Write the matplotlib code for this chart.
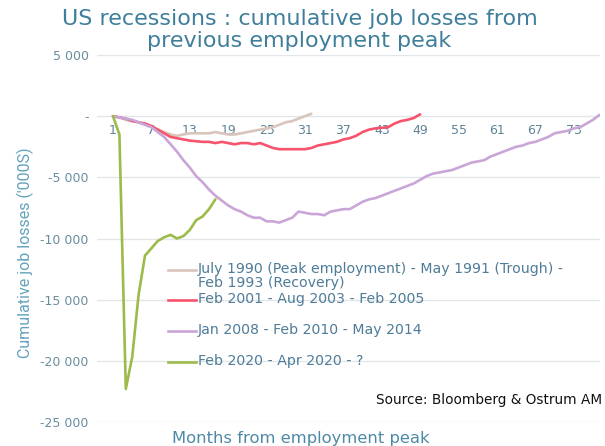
import matplotlib
matplotlib.use("Agg")
import matplotlib.pyplot as plt
from matplotlib.lines import Line2D
from matplotlib.ticker import FuncFormatter

# ---- data (thousands of jobs, cumulative change from previous employment peak) ----
labels = [
    "July 1990 (Peak employment) - May 1991 (Trough) -\nFeb 1993 (Recovery)",
    "Feb 2001 - Aug 2003 - Feb 2005",
    "Jan 2008 - Feb 2010 - May 2014",
    "Feb 2020 - Apr 2020 - ?",
]
rec_1990 = [0, -100, -300, -400, -500, -700, -900, -1100, -1300, -1500, -1600, -1500,
            -1400, -1400, -1400, -1400, -1300, -1400, -1500, -1500, -1400, -1300, -1200,
            -1100, -1000, -900, -700, -500, -400, -200, 0, 200]
rec_2001 = [0, -100, -200, -400, -500, -600, -800, -1100, -1400, -1700, -1800, -1900,
            -2000, -2050, -2100, -2100, -2200, -2100, -2200, -2300, -2200, -2200, -2300,
            -2200, -2400, -2600, -2700, -2700, -2700, -2700, -2700, -2600, -2400, -2300,
            -2200, -2100, -1900, -1800, -1600, -1300, -1100, -1000, -950, -900, -600,
            -400, -300, -150, 150]
rec_2008 = [0, -100, -200, -300, -500, -700, -900, -1300, -1700, -2300, -2900, -3600,
            -4200, -4900, -5400, -6000, -6500, -6900, -7300, -7600, -7800, -8100, -8300,
            -8300, -8600, -8600, -8700, -8500, -8300, -7800, -7900, -8000, -8000, -8100,
            -7800, -7700, -7600, -7600, -7300, -7000, -6800, -6700, -6500, -6300, -6100,
            -5900, -5700, -5500, -5200, -4900, -4700, -4600, -4500, -4400, -4200, -4000,
            -3800, -3700, -3600, -3300, -3100, -2900, -2700, -2500, -2400, -2200, -2100,
            -1900, -1700, -1400, -1300, -1200, -1000, -900, -600, -300, 100]
rec_2020 = [0, -1500, -22300, -19700, -14600, -11400, -10800, -10200, -9900, -9700,
            -10000, -9800, -9300, -8500, -8200, -7600, -6800]
series = [rec_1990, rec_2001, rec_2008, rec_2020]
colors = ["#d9c5bb", "#f7536c", "#c9a5d8", "#9cbb4a"]
xticks = list(range(1, 78, 6))
yticks = [5000, 0, -5000, -10000, -15000, -20000, -25000]

W, H = 605, 446
AX_L, AX_R, AX_T, AX_B = 97, 600, 55, 422
fig = plt.figure(figsize=(W / 100, H / 100), dpi=100)
ax = fig.add_axes([AX_L / W, 1 - AX_B / H, (AX_R - AX_L) / W, (AX_B - AX_T) / H])

for vals, col, lab in zip(series, colors, labels):
    months = list(range(1, len(vals) + 1))
    ax.plot(months, vals, color=col, lw=1.9, label=lab, solid_capstyle="round",
            solid_joinstyle="round", zorder=3)

ax.set_xlim(-1.5, 77.1)
ax.set_ylim(-25000, 5000)
ax.set_yticks(yticks)
ax.yaxis.set_major_formatter(FuncFormatter(
    lambda v, p: "-" if v == 0 else f"{v:,.0f}".replace(",", " ")))
ax.set_xticks(xticks)
ax.set_xticklabels([str(t) for t in xticks])
ax.grid(axis="y", color="#e3e6e8", lw=1.0, zorder=0)
ax.set_axisbelow(True)
for s in ["left", "right", "top"]:
    ax.spines[s].set_visible(False)
ax.spines["bottom"].set_position(("data", 0))
ax.spines["bottom"].set_visible(False)
ax.tick_params(axis="x", length=0, pad=6, labelsize=9, labelcolor="#5f8396")
ax.tick_params(axis="y", length=0, pad=6, labelsize=9, labelcolor="#6a8d9e")

# legend (Excel-like layout: handle aligned with the first text line)
def ax_x(px):
    return (px - AX_L) / (AX_R - AX_L)

def ax_y(py):
    return (AX_B - py) / (AX_B - AX_T)

legend_rows = [270, 300, 331, 362]
for lab, col, py in zip(labels, colors, legend_rows):
    ax.add_line(Line2D([ax_x(168), ax_x(196)], [ax_y(py), ax_y(py)], color=col, lw=1.9,
                       transform=ax.transAxes, zorder=4))
    ax.text(ax_x(198), ax_y(py - 7.5), lab, transform=ax.transAxes, ha="left", va="top",
            fontsize=10.2, color="#4f7c98", linespacing=0.93, zorder=4)

fig.text(0.495, 1 - 30 / H, "US recessions : cumulative job losses from\nprevious employment peak",
         ha="center", va="center", fontsize=16, color="#3f7f9c", linespacing=1.1,
         family="DejaVu Sans")
fig.text(25 / W, 1 - 253 / H, "Cumulative job losses ('000S)", rotation=90,
         ha="center", va="center", fontsize=11.5, color="#64a2bd",
         family="Roboto")
fig.text(301 / W, 1 - 438 / H, "Months from employment peak", ha="center", va="center",
         fontsize=11.8, color="#4e8aa6", family="DejaVu Sans")
fig.text(602 / W, 1 - 400 / H, "Source: Bloomberg & Ostrum AM", ha="right", va="center",
         fontsize=9.8, color="#111111")

fig.savefig("out.png", dpi=100)
